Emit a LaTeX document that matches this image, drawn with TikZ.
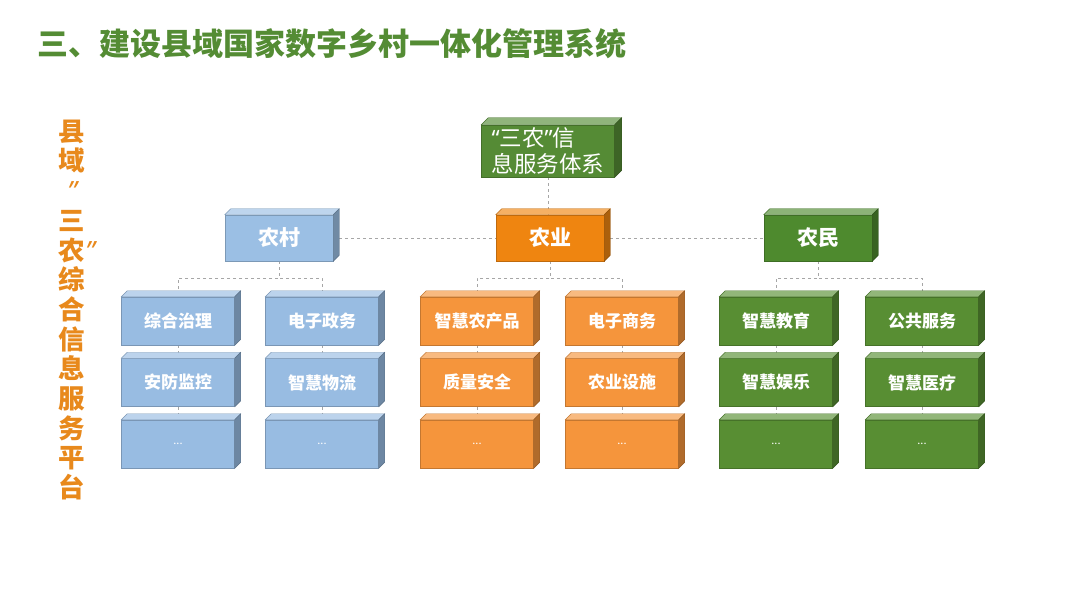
\documentclass[tikz,border=0pt]{standalone}
\usepackage{fontspec}
\newfontfamily\cjk{Noto Sans CJK SC}
\newfontfamily\latin{Noto Sans}
\usepackage{tikz}
\usetikzlibrary{positioning,backgrounds}
\definecolor{titlegreen}{HTML}{548C34}
\definecolor{sideorange}{HTML}{E8891C}
\definecolor{topgreen}{HTML}{558B35}
\definecolor{cunblue}{HTML}{9BBFE4}
\definecolor{yeorange}{HTML}{EF8510}
\definecolor{mingreen}{HTML}{4E8A2E}
\definecolor{leafblue}{HTML}{98BCE2}
\definecolor{leaforange}{HTML}{F5953C}
\definecolor{leafgreen}{HTML}{588E33}
\definecolor{linkgray}{HTML}{A6A6A6}

\begin{document}
\begin{tikzpicture}[x=1pt, y=-1pt, node distance=13pt,
    box/.style={draw=#1!80!black, line width=0.5pt, fill=#1, text=white, inner sep=0pt},
    headbox/.style={box=#1, minimum width=108pt, minimum height=46pt, font=\cjk\bfseries\fontsize{21}{24}\selectfont},
    leafbox/.style={box=#1, minimum width=113pt, minimum height=48pt, font=\cjk\bfseries\fontsize{17}{20}\selectfont},
    morebox/.style={leafbox=#1, font=\cjk\fontsize{11}{12}\selectfont},
    link/.style={draw=linkgray, dashed, line width=0.8pt}]
    \useasboundingbox (0,0) rectangle (1080,607);

    % title and side label
    \node[anchor=west, inner sep=0pt, text=titlegreen, font=\cjk\bfseries\fontsize{31}{34}\selectfont] (title) at (37,44) {三、建设县域国家数字乡村一体化管理系统};
    \node[inner sep=0pt, align=center, text=sideorange, font=\cjk\bfseries\fontsize{26.5}{29.7}\selectfont] (side) at (72,310) {县\\域\\{\latin\itshape ”}\\三\\农\rlap{\latin\itshape ”}\\综\\合\\信\\息\\服\\务\\平\\台};

    % tree
    \node[box=topgreen, minimum width=133pt, minimum height=52pt, text width=113pt, align=left, font=\cjk\fontsize{22.5}{26}\selectfont] (sys) at (548,151) {{\latin “}三农{\latin ”}信\\息服务体系};

    \node[headbox=cunblue] (cun) at (279,238) {农村};
    \node[headbox=yeorange] (ye) at (550,238) {农业};
    \node[headbox=mingreen] (min) at (818,238) {农民};

    \node[leafbox=leafblue] (zhili) at (178,321) {综合治理};
    \node[leafbox=leafblue] (zhengwu) at (322,321) {电子政务};
    \node[leafbox=leaforange] (nongchan) at (477,321) {智慧农产品};
    \node[leafbox=leaforange] (shangwu) at (622,321) {电子商务};
    \node[leafbox=leafgreen] (jiaoyu) at (776,321) {智慧教育};
    \node[leafbox=leafgreen] (gonggong) at (922,321) {公共服务};

    \node[leafbox=leafblue, below=of zhili] (anfang) {安防监控};
    \node[leafbox=leafblue, below=of zhengwu] (wuliu) {智慧物流};
    \node[leafbox=leaforange, below=of nongchan] (zhiliang) {质量安全};
    \node[leafbox=leaforange, below=of shangwu] (sheshi) {农业设施};
    \node[leafbox=leafgreen, below=of jiaoyu] (yule) {智慧娱乐};
    \node[leafbox=leafgreen, below=of gonggong] (yiliao) {智慧医疗};

    \node[morebox=leafblue, below=of anfang] (morea) {...};
    \node[morebox=leafblue, below=of wuliu] (moreb) {...};
    \node[morebox=leaforange, below=of zhiliang] (morec) {...};
    \node[morebox=leaforange, below=of sheshi] (mored) {...};
    \node[morebox=leafgreen, below=of yule] (moree) {...};
    \node[morebox=leafgreen, below=of yiliao] (moref) {...};

    % top and side faces
    \foreach \n/\col/\d in {sys/topgreen/7, cun/cunblue/6, ye/yeorange/6, min/mingreen/6,
        zhili/leafblue/6, zhengwu/leafblue/6, nongchan/leaforange/6, shangwu/leaforange/6, jiaoyu/leafgreen/6, gonggong/leafgreen/6,
        anfang/leafblue/6, wuliu/leafblue/6, zhiliang/leaforange/6, sheshi/leaforange/6, yule/leafgreen/6, yiliao/leafgreen/6,
        morea/leafblue/6, moreb/leafblue/6, morec/leaforange/6, mored/leaforange/6, moree/leafgreen/6, moref/leafgreen/6} {
      \filldraw[fill=\col!65!white, draw=\col!80!black, line width=0.4pt] (\n.north west) -- ++(\d,-\d) -- ([shift={(\d,-\d)}]\n.north east) -- (\n.north east) -- cycle;
      \filldraw[fill=\col!72!black, draw=\col!60!black, line width=0.4pt] (\n.north east) -- ([shift={(\d,-\d)}]\n.north east) -- ([shift={(\d,-\d)}]\n.south east) -- (\n.south east) -- cycle;
    }

    \begin{scope}[on background layer]
      \fill[white] (0,0) rectangle (1080,607);
      \draw[link] (sys.south) -- (sys.south |- ye.north);
      \draw[link] (cun) -- (ye);
      \draw[link] (ye) -- (min);

      \draw[link] (cun.south) -- ++(0,17) -| (zhili.north);
      \draw[link] (cun.south) -- ++(0,17) -| (zhengwu.north);
      \draw[link] (ye.south) -- ++(0,17) -| (nongchan.north);
      \draw[link] (ye.south) -- ++(0,17) -| (shangwu.north);
      \draw[link] (min.south) -- ++(0,17) -| (jiaoyu.north);
      \draw[link] (min.south) -- ++(0,17) -| (gonggong.north);

      \foreach \a/\b/\c in {zhili/anfang/morea, zhengwu/wuliu/moreb, nongchan/zhiliang/morec,
          shangwu/sheshi/mored, jiaoyu/yule/moree, gonggong/yiliao/moref} {
        \draw[link] (\a) -- (\b);
        \draw[link] (\b) -- (\c);
      }
    \end{scope}
  \end{tikzpicture}
\end{document}
